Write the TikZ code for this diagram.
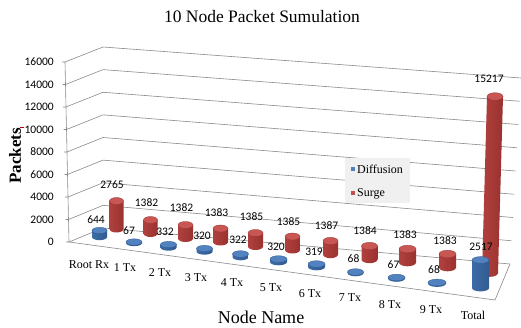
\documentclass[tikz,border=0pt]{standalone}
\usepackage{fontspec}
\setmainfont{Liberation Serif}
\newfontfamily\calfont{Carlito}
\definecolor{gridgray}{HTML}{8A8A8A}
\definecolor{rbA}{HTML}{B0403D}
\definecolor{rbB}{HTML}{D9625F}
\definecolor{rbC}{HTML}{9A322F}
\definecolor{rtop}{HTML}{C85754}
\definecolor{redge}{HTML}{9A3431}
\definecolor{bbA}{HTML}{3C6BA6}
\definecolor{bbB}{HTML}{6D9BD3}
\definecolor{bbC}{HTML}{325C91}
\definecolor{btop}{HTML}{5282BF}
\definecolor{bedge}{HTML}{2F5A8F}
\definecolor{legbg}{HTML}{F0F0F0}
\definecolor{serblue}{HTML}{4F81BD}
\definecolor{serred}{HTML}{C0504D}
\newcommand\cylbar[8]{%
  \path[#7] ({#3-#5},#4) arc[start angle=180,end angle=0,x radius=#5,y radius=#6]
    -- ({#1+#5},#2) -- ({#1-#5},#2) -- cycle;
  \path[#8] (#1,#2) ellipse[x radius=#5,y radius=#6];
}
\begin{document}
\begin{tikzpicture}[x=1pt,y=-1pt,
  grid/.style={draw=gridgray,line width=0.6pt},
  redbody/.style={left color=rbA,middle color=rbB,right color=rbC},
  redtop/.style={fill=rtop,draw=redge,line width=0.3pt},
  bluebody/.style={left color=bbA,middle color=bbB,right color=bbC},
  bluetop/.style={fill=btop,draw=bedge,line width=0.3pt},
  ticklab/.style={font=\calfont\fontsize{11.5}{12}\selectfont,anchor=east,inner sep=0pt},
  datalab/.style={font=\calfont\fontsize{11.5}{12}\selectfont,inner sep=0pt},
  catlab/.style={font=\fontsize{12}{13}\selectfont,inner sep=0pt},
  leglab/.style={font=\fontsize{12}{13}\selectfont,anchor=west,inner sep=0pt}]
\useasboundingbox[fill=white] (0,0) rectangle (521,328);

% title and axis titles
\node[font=\fontsize{17.5}{19}\selectfont,inner sep=0pt] (title) at (262,17) {10 Node Packet Sumulation};
\node[font=\bfseries\fontsize{17}{18}\selectfont,rotate=90,inner sep=0pt] (ytitle) at (15,156) {Packets};
\draw[red!75!black,line width=0.8pt] (20,127.5) -- (23.5,127.5);
\node[font=\fontsize{18}{19}\selectfont,inner sep=0pt] (xtitle) at (261,317) {Node Name};

% gridlines: left wall and back wall
\foreach \i in {0,...,8}{
  \pgfmathsetmacro\yf{62+22.5*\i}
  \pgfmathsetmacro\xf{65+0.5*\i}
  \pgfmathsetmacro\yb{47+22.625*\i}
  \pgfmathsetmacro\xr{521-1.375*\i}
  \pgfmathsetmacro\yr{78+23.25*\i}
  \draw[grid] ({\xf-3},\yf) -- (\xf,\yf) -- (103,\yb) -- (\xr,\yr);
}
% vertical axis
\draw[grid] (65,62) -- (69,242);
% floor outline
\draw[grid] (69,242) -- (495,300) -- (510,264);

% tick labels
\foreach \v [count=\k from 0] in {16000,14000,12000,10000,8000,6000,4000,2000,0}{
  \node[ticklab] (t\k) at (54,{62+22.5*\k}) {\v};
}

% red series (Surge)
\cylbar{116.5}{201}{116.5}{229}{7}{3.5}{redbody}{redtop}
\cylbar{150.5}{220}{150.5}{233.5}{7}{3.5}{redbody}{redtop}
\cylbar{185.5}{225}{185.5}{238.5}{7.5}{3.5}{redbody}{redtop}
\cylbar{220.5}{228.5}{220.5}{242}{7.5}{3.5}{redbody}{redtop}
\cylbar{255.5}{233}{255.5}{246.5}{7.5}{3.5}{redbody}{redtop}
\cylbar{292.5}{236.5}{292.5}{250}{7.5}{3.5}{redbody}{redtop}
\cylbar{330.5}{241}{330.5}{254.5}{7.5}{3.7}{redbody}{redtop}
\cylbar{369.5}{246}{369.5}{259.5}{8}{3.7}{redbody}{redtop}
\cylbar{407.5}{249}{407.5}{262.5}{8.5}{3.8}{redbody}{redtop}
\cylbar{447.5}{254}{447.5}{267.5}{8.5}{3.8}{redbody}{redtop}
\cylbar{495}{96.5}{490}{273}{8}{3.8}{redbody}{redtop}

% blue series (Diffusion)
\cylbar{99.5}{230.5}{99.5}{237}{7.5}{3.2}{bluebody}{bluetop}
\cylbar{134}{242}{134}{243}{8}{3.2}{bluebody}{bluetop}
\cylbar{168.5}{244.5}{168.5}{247.5}{8}{3.2}{bluebody}{bluetop}
\cylbar{204.5}{248.5}{204.5}{251.5}{8}{3.2}{bluebody}{bluetop}
\cylbar{240.5}{254}{240.5}{257}{8}{3.3}{bluebody}{bluetop}
\cylbar{278.5}{259}{278.5}{262}{8.5}{3.3}{bluebody}{bluetop}
\cylbar{316.5}{264}{316.5}{267}{8.5}{3.3}{bluebody}{bluetop}
\cylbar{355.5}{272}{355.5}{273}{8}{3.3}{bluebody}{bluetop}
\cylbar{396.5}{277.5}{396.5}{278.5}{8.5}{3.3}{bluebody}{bluetop}
\cylbar{437}{282.5}{437}{283.5}{9}{3.4}{bluebody}{bluetop}
\cylbar{480.5}{260}{480.5}{288}{8.5}{3.4}{bluebody}{bluetop}

% data labels: Surge
\node[datalab] (s0) at (112,185) {2765};
\node[datalab] (s1) at (146.5,203) {1382};
\node[datalab] (s2) at (181.5,208) {1382};
\node[datalab] (s3) at (216.5,213) {1383};
\node[datalab] (s4) at (251.5,217) {1385};
\node[datalab] (s5) at (288.5,222) {1385};
\node[datalab] (s6) at (326.5,226) {1387};
\node[datalab] (s7) at (365,231) {1384};
\node[datalab] (s8) at (405,235) {1383};
\node[datalab] (s9) at (445,241) {1383};
\node[datalab] (s10) at (489,79) {15217};
% data labels: Diffusion
\node[datalab] (d0) at (96,220) {644};
\node[datalab] (d1) at (129,231) {67};
\node[datalab] (d2) at (165,232) {332};
\node[datalab] (d3) at (202,236) {320};
\node[datalab] (d4) at (238,240) {322};
\node[datalab] (d5) at (276,247) {320};
\node[datalab] (d6) at (314,252) {319};
\node[datalab] (d7) at (353.5,259) {68};
\node[datalab] (d8) at (393.5,265) {67};
\node[datalab] (d9) at (434,270) {68};
\node[datalab] (d10) at (481,247) {2517};

% category labels
\node[catlab] (c0) at (89,265) {Root Rx};
\node[catlab] (c1) at (125,268) {1 Tx};
\node[catlab] (c2) at (160,273) {2 Tx};
\node[catlab] (c3) at (196,278) {3 Tx};
\node[catlab] (c4) at (232,283) {4 Tx};
\node[catlab] (c5) at (271,288) {5 Tx};
\node[catlab] (c6) at (310,294) {6 Tx};
\node[catlab] (c7) at (350,298) {7 Tx};
\node[catlab] (c8) at (390,305) {8 Tx};
\node[catlab] (c9) at (431,310) {9 Tx};
\node[catlab] (c10) at (473,315) {Total};

% legend
\path[fill=legbg] (345,158) rectangle (410,203);
\path[fill=serblue] (350.5,167) rectangle (354.5,171);
\node[leglab] (l1) at (357,169.5) {Diffusion};
\path[fill=serred] (350.5,191) rectangle (354.5,195);
\node[leglab] (l2) at (357,193.5) {Surge};
\end{tikzpicture}
\end{document}
